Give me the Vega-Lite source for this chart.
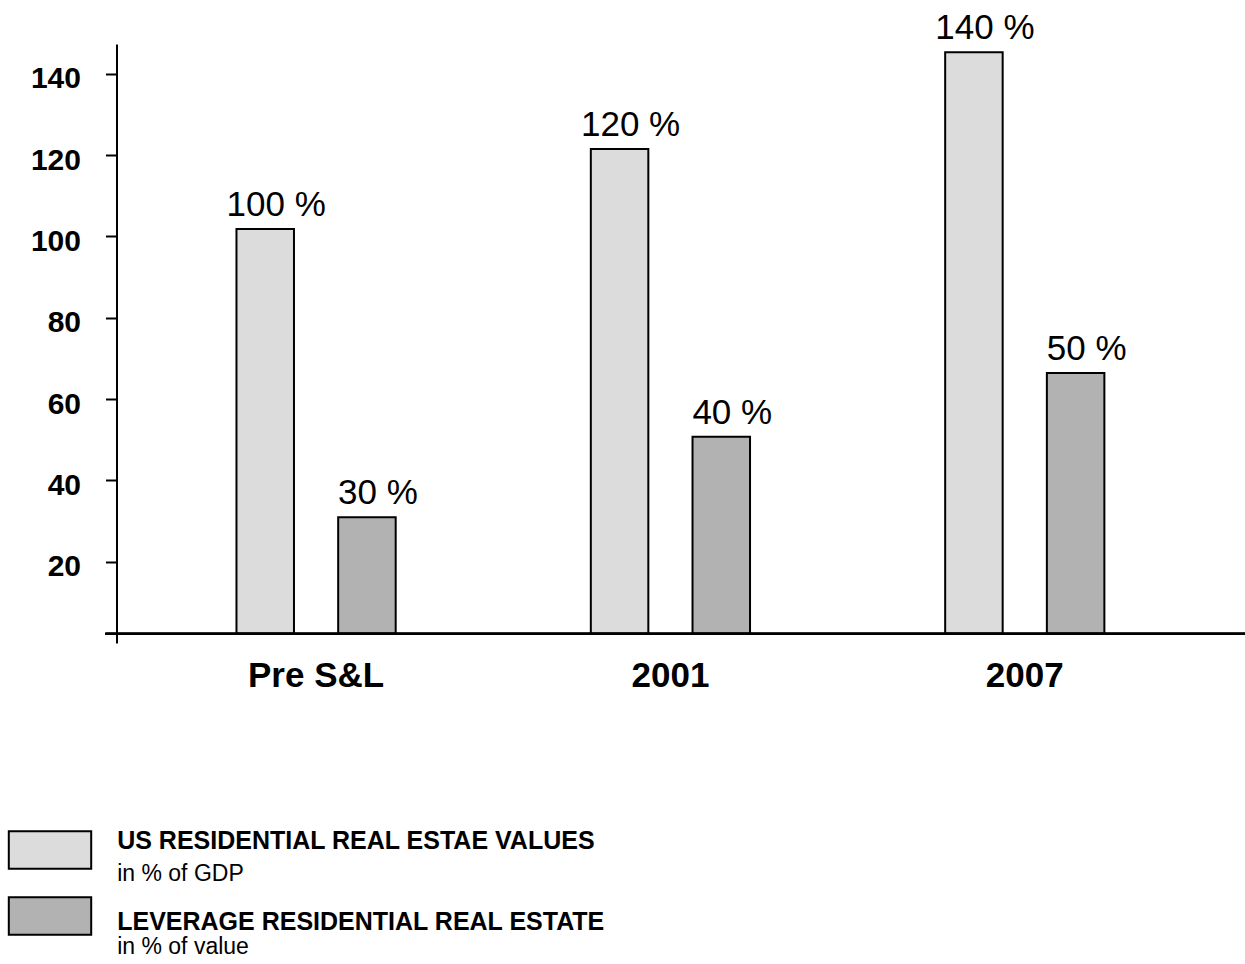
{
  "$schema": "https://vega.github.io/schema/vega-lite/v6.json",
  "background": "white",
  "padding": {"left": 7.5, "top": 11, "right": 0, "bottom": 5},
  "bounds": "flush",
  "spacing": 188.3,
  "config": {
    "font": "Liberation Sans",
    "view": {"stroke": null}
  },
  "datasets": {
    "bars": [
      {"period": "Pre S&L", "series": "US residential real estate values", "value": 101.8, "label": "100 %"},
      {"period": "Pre S&L", "series": "Leverage residential real estate", "value": 30.9, "label": "30 %"},
      {"period": "2001", "series": "US residential real estate values", "value": 121.5, "label": "120 %"},
      {"period": "2001", "series": "Leverage residential real estate", "value": 50.7, "label": "40 %"},
      {"period": "2007", "series": "US residential real estate values", "value": 145.3, "label": "140 %"},
      {"period": "2007", "series": "Leverage residential real estate", "value": 66.4, "label": "50 %"}
    ],
    "legend": [
      {"series": "US residential real estate values", "title": "US RESIDENTIAL REAL ESTAE VALUES", "sub": "in % of GDP"},
      {"series": "Leverage residential real estate", "title": "LEVERAGE RESIDENTIAL REAL ESTATE", "sub": "in % of value"}
    ]
  },
  "vconcat": [
    {
      "width": 1140,
      "height": 599,
      "data": {"name": "bars"},
      "layer": [
        {
          "mark": {"type": "bar", "stroke": "black", "strokeWidth": 2},
          "encoding": {
            "x": {
              "field": "period", "type": "nominal", "sort": ["Pre S&L", "2001", "2007"],
              "scale": {"paddingInner": 0.4, "paddingOuter": 0.3086, "align": 0.4768},
              "axis": {"title": null, "domain": false, "ticks": false, "tickSize": 0, "labelAngle": 0, "labelFontSize": 35, "labelFontWeight": "bold", "labelColor": "black", "labelPadding": 15}
            },
            "xOffset": {
              "field": "series", "type": "nominal",
              "sort": ["US residential real estate values", "Leverage residential real estate"],
              "scale": {"paddingInner": 0.4346, "paddingOuter": 0.2625}
            },
            "y": {
              "field": "value", "type": "quantitative",
              "scale": {"domain": [0, 147.3], "nice": false, "zero": true},
              "axis": {"title": null, "values": [20, 40, 60, 80, 100, 120, 140], "offset": -11, "grid": false, "domainColor": "black", "domainWidth": 2, "tickColor": "black", "tickWidth": 2, "tickSize": 11, "labelFontSize": 30, "labelFontWeight": "bold", "labelColor": "black", "labelPadding": 25, "labelBaseline": "alphabetic", "labelOffset": 14}
            },
            "y2": {"datum": 2.3},
            "color": {
              "field": "series", "type": "nominal",
              "scale": {"domain": ["US residential real estate values", "Leverage residential real estate"], "range": ["#dcdcdc", "#b2b2b2"]},
              "legend": null
            }
          }
        },
        {
          "mark": {"type": "text", "fontSize": 35, "dy": -13, "dx": 11, "align": "center", "baseline": "alphabetic", "color": "black"},
          "encoding": {
            "x": {"field": "period", "type": "nominal", "sort": ["Pre S&L", "2001", "2007"]},
            "xOffset": {"field": "series", "type": "nominal", "sort": ["US residential real estate values", "Leverage residential real estate"]},
            "y": {"field": "value", "type": "quantitative"},
            "text": {"field": "label"}
          }
        },
        {
          "mark": {"type": "rule", "stroke": "black", "strokeWidth": 2},
          "encoding": {
            "y": {"datum": 2.3}
          }
        }
      ]
    },
    {
      "width": 1140,
      "height": 103.5,
      "data": {"name": "legend"},
      "layer": [
        {
          "mark": {"type": "rect", "stroke": "black", "strokeWidth": 2},
          "encoding": {
            "x": {"datum": -96.7, "type": "quantitative", "scale": {"domain": [0, 1140], "nice": false, "zero": false}, "axis": null},
            "x2": {"datum": -14.3},
            "y": {
              "field": "series", "type": "nominal",
              "sort": ["US residential real estate values", "Leverage residential real estate"],
              "scale": {"type": "band", "paddingInner": 0.432, "paddingOuter": 0},
              "axis": null
            },
            "color": {
              "field": "series", "type": "nominal",
              "scale": {"domain": ["US residential real estate values", "Leverage residential real estate"], "range": ["#dcdcdc", "#b2b2b2"]},
              "legend": null
            }
          }
        },
        {
          "mark": {"type": "text", "fontSize": 25, "fontWeight": "bold", "align": "left", "baseline": "alphabetic", "dy": 6.45, "color": "black"},
          "encoding": {
            "x": {"datum": 11.7, "type": "quantitative"},
            "y": {
              "field": "series", "type": "nominal",
              "sort": ["US residential real estate values", "Leverage residential real estate"],
              "scale": {"type": "point", "padding": 0.139},
              "axis": null
            },
            "text": {"field": "title"}
          }
        },
        {
          "mark": {"type": "text", "fontSize": 23, "align": "left", "baseline": "alphabetic", "dy": 34.5, "color": "black"},
          "encoding": {
            "x": {"datum": 11.7, "type": "quantitative"},
            "y": {
              "field": "series", "type": "nominal",
              "sort": ["US residential real estate values", "Leverage residential real estate"],
              "scale": {"type": "point", "padding": 0.204},
              "axis": null
            },
            "text": {"field": "sub"}
          }
        }
      ],
      "resolve": {"scale": {"y": "independent"}}
    }
  ]
}
